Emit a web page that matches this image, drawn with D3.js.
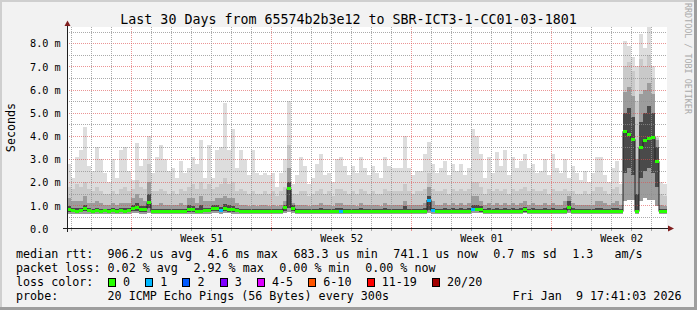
<!DOCTYPE html>
<html>
<head>
<meta charset="utf-8">
<script src="https://cdnjs.cloudflare.com/ajax/libs/d3/7.8.5/d3.min.js"></script>
<style>
body { margin: 0; background: #f2f2f2; }
svg { display: block; }
text { font-family: "DejaVu Sans Mono", monospace; white-space: pre; }
</style>
</head>
<body>
<div id="chart"></div>
<script>
// 150 samples of 4.8 h over the last 30 days, values in ms
const pingMin = [
0.64,0.64,0.64,0.64,0.64,0.64,0.64,0.64,0.64,0.64,
0.64,0.64,0.64,0.64,0.64,0.64,0.65,0.65,0.64,0.64,
0.66,0.64,0.64,0.63,0.64,0.64,0.63,0.64,0.64,0.63,
0.64,0.64,0.64,0.63,0.64,0.64,0.65,0.65,0.64,0.65,
0.65,0.64,0.64,0.63,0.63,0.63,0.63,0.63,0.63,0.63,
0.63,0.63,0.63,0.63,0.65,0.70,0.65,0.64,0.64,0.64,
0.64,0.64,0.64,0.64,0.63,0.64,0.64,0.64,0.64,0.64,
0.64,0.64,0.64,0.64,0.63,0.64,0.64,0.64,0.64,0.64,
0.64,0.64,0.64,0.64,0.64,0.64,0.63,0.64,0.64,0.64,
0.66,0.64,0.64,0.64,0.64,0.64,0.64,0.64,0.63,0.64,
0.64,0.65,0.65,0.65,0.64,0.64,0.64,0.64,0.64,0.64,
0.64,0.64,0.64,0.64,0.65,0.64,0.64,0.64,0.64,0.64,
0.64,0.64,0.64,0.64,0.64,0.66,0.64,0.64,0.64,0.64,
0.63,0.63,0.64,0.63,0.63,0.63,0.64,0.63,0.63,1.20,
1.25,1.25,0.64,1.20,1.30,1.25,1.25,0.95,0.63,0.63];

// 8th of 20 sorted pings (just under the median)
const p8 = [
0.72,0.71,0.70,0.71,0.74,0.71,0.70,0.71,0.70,0.71,
0.70,0.71,0.70,0.71,0.70,0.71,0.74,0.76,0.72,0.72,
0.90,0.70,0.70,0.70,0.70,0.70,0.70,0.70,0.70,0.70,
0.72,0.72,0.70,0.70,0.71,0.71,0.74,0.74,0.71,0.75,
0.73,0.72,0.71,0.70,0.70,0.70,0.70,0.70,0.70,0.70,
0.70,0.70,0.70,0.70,0.76,0.90,0.76,0.70,0.70,0.71,
0.70,0.70,0.71,0.70,0.70,0.70,0.70,0.71,0.70,0.70,
0.70,0.71,0.70,0.70,0.70,0.70,0.70,0.71,0.70,0.70,
0.70,0.70,0.71,0.70,0.70,0.70,0.70,0.70,0.71,0.70,
0.80,0.71,0.70,0.70,0.71,0.70,0.70,0.70,0.70,0.70,
0.70,0.74,0.74,0.73,0.70,0.70,0.71,0.70,0.70,0.70,
0.70,0.71,0.70,0.70,0.72,0.70,0.70,0.70,0.71,0.70,
0.70,0.70,0.71,0.70,0.70,0.78,0.70,0.70,0.70,0.70,
0.70,0.70,0.70,0.70,0.70,0.70,0.70,0.70,0.70,2.40,
2.60,2.30,0.71,2.20,2.50,2.60,2.40,1.80,0.70,0.70];

const median = [
0.82,0.76,0.75,0.76,0.87,0.76,0.75,0.76,0.75,0.76,
0.75,0.76,0.75,0.76,0.75,0.76,0.88,0.90,0.83,0.83,
1.12,0.74,0.74,0.73,0.74,0.74,0.73,0.74,0.74,0.73,
0.83,0.82,0.74,0.72,0.76,0.76,0.86,0.86,0.77,0.87,
0.84,0.83,0.76,0.73,0.73,0.72,0.73,0.73,0.72,0.73,
0.73,0.72,0.73,0.73,0.90,1.72,0.88,0.74,0.74,0.75,
0.74,0.74,0.75,0.74,0.73,0.74,0.74,0.75,0.74,0.74,
0.74,0.75,0.74,0.74,0.73,0.74,0.74,0.75,0.74,0.74,
0.74,0.74,0.75,0.74,0.74,0.74,0.73,0.74,0.75,0.74,
1.23,0.76,0.74,0.74,0.75,0.74,0.74,0.74,0.73,0.74,
0.74,0.84,0.84,0.82,0.74,0.74,0.75,0.74,0.74,0.74,
0.74,0.75,0.74,0.74,0.80,0.74,0.74,0.74,0.75,0.74,
0.74,0.74,0.75,0.74,0.74,0.92,0.74,0.74,0.74,0.74,
0.73,0.73,0.74,0.73,0.73,0.73,0.74,0.73,0.73,4.20,
4.05,3.85,0.73,3.50,3.80,3.90,3.95,2.90,0.73,0.73];

// smoke: upper pings of each sample (ping 12, 15, 18 of 20, and the max)
const p12 = [
0.95,0.88,0.88,0.88,1.00,0.88,0.86,0.90,0.86,0.86,
0.86,0.88,0.86,0.88,0.88,0.88,1.00,1.10,0.98,0.95,
1.50,0.86,0.85,0.86,0.85,0.85,0.85,0.85,0.86,0.85,
1.00,0.98,0.88,1.00,0.90,0.90,1.00,1.00,0.92,1.05,
1.00,0.98,0.88,0.84,0.84,0.83,0.84,0.83,0.84,0.84,
0.83,0.84,0.83,0.84,1.00,2.00,1.00,0.85,0.85,0.85,
0.84,0.85,0.85,0.88,0.85,0.85,0.84,0.88,0.88,0.85,
0.85,0.85,0.84,0.88,0.85,0.85,0.85,0.85,0.84,0.88,
0.85,0.85,0.85,0.85,0.95,0.85,0.85,0.85,0.85,0.88,
1.40,0.90,0.85,0.85,0.88,0.85,0.88,0.85,0.88,0.85,
0.88,1.00,1.00,0.95,0.85,0.88,0.85,0.88,0.85,0.88,
0.85,0.88,0.85,0.88,0.92,0.85,0.88,0.85,0.85,0.88,
0.85,0.88,0.85,0.85,0.90,1.20,0.88,0.85,0.85,0.85,
0.84,0.85,0.90,0.90,0.86,0.84,0.88,0.90,0.84,5.00,
5.20,4.80,1.50,4.60,5.00,5.30,5.00,3.50,0.84,0.84];

const p15 = [
1.30,1.20,1.20,1.20,1.40,1.10,1.10,1.20,1.10,1.00,
1.00,1.10,1.00,1.10,1.10,1.10,1.30,1.50,1.30,1.20,
2.00,1.00,1.00,1.10,1.00,1.00,1.00,1.00,1.10,1.00,
1.30,1.30,1.10,1.40,1.20,1.20,1.20,1.30,1.30,1.40,
1.30,1.30,1.10,1.00,1.00,0.95,1.00,0.95,1.00,1.00,
0.95,1.00,0.95,1.00,1.20,2.60,1.10,1.00,1.00,1.00,
0.95,1.00,1.00,1.10,1.00,1.00,0.95,1.10,1.10,1.00,
1.00,1.00,0.95,1.10,1.00,1.00,1.00,1.00,0.95,1.10,
1.00,1.00,1.00,1.00,1.20,1.00,1.00,1.00,1.00,1.10,
1.80,1.20,1.00,1.00,1.10,1.00,1.10,1.00,1.10,1.00,
1.10,1.40,1.40,1.20,1.00,1.10,1.00,1.10,1.00,1.10,
1.00,1.10,1.00,1.10,1.20,1.00,1.10,1.00,1.00,1.10,
1.00,1.10,1.00,1.00,1.20,1.40,1.10,1.00,1.00,1.00,
1.00,1.00,1.20,1.20,1.10,1.00,1.10,1.20,1.00,5.90,
6.10,5.70,3.00,5.80,6.00,6.30,5.80,3.80,1.00,0.95];

const p18 = [
1.80,1.70,1.90,1.80,2.00,1.70,1.60,1.80,1.60,1.50,
1.50,1.60,1.50,1.70,1.80,1.60,1.70,2.10,1.80,1.70,
2.80,1.60,1.60,1.70,1.60,1.50,1.60,1.50,1.70,1.60,
1.80,1.90,1.70,2.00,1.70,1.90,1.70,1.80,1.90,2.20,
1.90,2.00,1.60,1.70,1.60,1.50,1.60,1.50,1.50,1.60,
1.50,1.60,1.40,1.60,1.80,3.60,1.50,1.50,1.60,1.60,
1.40,1.50,1.60,1.70,1.50,1.60,1.40,1.70,1.70,1.60,
1.50,1.60,1.50,1.70,1.60,1.50,1.60,1.50,1.50,1.70,
1.60,1.60,1.60,1.60,1.90,1.60,1.50,1.60,1.60,1.70,
2.40,1.70,1.60,1.60,1.70,1.50,1.70,1.60,1.70,1.60,
1.70,2.00,2.00,1.80,1.50,1.70,1.60,1.70,1.60,1.70,
1.50,1.70,1.60,1.70,1.80,1.60,1.70,1.60,1.60,1.70,
1.50,1.70,1.60,1.60,1.70,1.60,1.60,1.50,1.50,1.60,
1.50,1.60,1.80,1.80,1.60,1.50,1.70,1.80,1.50,7.00,
7.20,6.80,5.50,7.30,7.00,7.50,6.50,3.90,1.50,1.40];

const pingMax = [
2.8,2.2,3.1,3.4,4.4,2.7,2.5,3.5,3.0,2.4,
2.0,3.0,2.2,3.4,3.5,2.5,2.1,3.7,2.7,3.0,
4.0,2.4,3.1,3.6,3.0,2.5,2.6,2.2,2.9,2.4,
2.6,3.1,2.8,3.8,2.2,3.6,2.2,3.4,3.5,5.4,
3.4,4.3,2.6,3.4,3.0,2.3,3.4,2.4,2.3,2.4,
2.3,2.4,1.8,2.4,3.0,5.5,1.9,2.3,3.1,2.7,
1.9,2.2,2.8,3.2,2.3,2.4,2.0,3.0,3.1,2.7,
2.3,2.7,2.4,3.1,2.6,2.3,2.7,2.4,2.2,3.1,
2.7,2.6,2.6,2.6,4.0,2.6,2.3,2.5,2.5,3.2,
3.75,2.8,2.4,2.6,2.9,2.3,2.8,2.5,2.8,2.3,
2.6,4.3,4.0,3.2,2.2,3.1,2.4,3.3,2.7,3.4,
2.3,3.1,2.6,2.9,3.2,2.6,2.8,2.4,2.5,3.0,
2.3,3.2,2.6,2.4,3.0,2.2,2.7,2.4,2.1,2.5,
2.0,2.4,3.1,3.1,2.3,2.0,2.6,2.9,1.9,8.1,
7.9,7.4,7.0,8.4,7.8,8.7,7.0,4.0,2.0,1.9];

// lost pings out of 20 per sample
const lossCount = [
0,0,0,0,0,0,0,0,0,0, 0,0,0,0,0,0,0,0,0,0,
0,0,0,0,0,0,0,0,0,0, 0,0,0,0,0,0,0,0,1,0,
0,0,0,0,0,0,0,0,0,0, 0,0,0,0,0,0,0,0,0,0,
0,0,0,0,0,0,0,0,1,0, 0,0,0,0,0,0,0,0,0,0,
0,0,0,0,0,0,0,0,0,0, 1,1,0,0,0,0,0,0,0,0,
0,1,0,0,0,0,0,0,0,0, 0,0,0,0,0,0,0,0,0,0,
0,0,0,0,0,0,0,0,0,0, 0,0,0,0,0,0,0,0,0,0,
0,0,0,0,0,0,0,0,0,0];

const lossLabels = ["0", "1", "2", "3", "4-5", "6-10", "11-19", "20/20"];
const lossUpper = [0, 1, 2, 3, 5, 10, 19, 20];
const lossColors = ["#26ff00", "#00b8ff", "#0059ff", "#7e00ff", "#dd00ff", "#ff5500", "#ff0000", "#a10000"];

const rttStats = ["906.2 us avg", "4.6 ms max", "683.3 us min", "741.1 us now", "0.7 ms sd", "1.3   am/s"];
const lossStats = ["0.02 % avg", "2.92 % max", "0.00 % min", "0.00 % now"];
const titleText = "Last 30 Days from 65574b2b3e12 to SBR-ICT3-1-CC01-03-1801";
const probeText = "20 ICMP Echo Pings (56 Bytes) every 300s";
const dateText = "Fri Jan  9 17:41:03 2026";

const W = 697, H = 310;
const plotL = 67, plotR = 667, plotT = 27, plotB = 228.5;
const ch = 7.04; // legend char advance

const tEnd = new Date(Date.UTC(2026, 0, 9, 19, 0, 0));
const tStart = d3.utcDay.offset(tEnd, -30);
const step = (tEnd - tStart) / median.length;
const times = median.map((d, i) => new Date(+tStart + i * step));

const x = d3.scaleUtc().domain([tStart, tEnd]).range([plotL, plotR]);
const y = d3.scaleLinear().domain([0, d3.max(pingMax)]).range([plotB, plotT]);
const sw = x(times[1]) - x(times[0]);

const svg = d3.select("#chart").append("svg").attr("width", W).attr("height", H);

// frame
svg.append("rect").attr("width", W).attr("height", H).attr("fill", "#f2f2f2");
svg.append("rect").attr("width", W).attr("height", 2).attr("fill", "#cfcfcf");
svg.append("rect").attr("width", 2).attr("height", H).attr("fill", "#cfcfcf");
svg.append("rect").attr("x", 0).attr("y", H - 3).attr("width", W).attr("height", 3).attr("fill", "#9e9e9e");
svg.append("rect").attr("x", W - 3).attr("y", 0).attr("width", 3).attr("height", H).attr("fill", "#9e9e9e");

svg.append("rect").attr("x", plotL).attr("y", plotT).attr("width", plotR - plotL).attr("height", plotB - plotT)
  .attr("fill", "#ffffff");

// smoke
const bands = [
  { lo: pingMin, hi: pingMax, color: "#dddddd" },
  { lo: pingMin, hi: p18, color: "#c9c9c9" },
  { lo: pingMin, hi: p15, color: "#9c9c9c" },
  { lo: p8, hi: p12, color: "#4a4a4a" }
];
bands.forEach(b => {
  svg.append("g").attr("shape-rendering", "crispEdges")
    .selectAll("rect").data(times).join("rect")
    .attr("x", d => x(d))
    .attr("width", sw)
    .attr("y", (d, i) => y(b.hi[i]))
    .attr("height", (d, i) => y(b.lo[i]) - y(b.hi[i]))
    .attr("fill", b.color);
});

// grid
const px = v => Math.round(v) + 0.5;
const gridCol = "rgba(143,143,143,0.75)", mgridCol = "rgba(222,79,79,0.6)";
const grid = svg.append("g").attr("shape-rendering", "crispEdges").attr("stroke-dasharray", "1,1");
const yMax = y.domain()[1];
d3.range(1, 20).map(k => k * 0.5).filter(v => v < yMax).forEach(v => {
  const major = Number.isInteger(v);
  grid.append("line").attr("x1", plotL).attr("x2", plotR).attr("y1", px(y(v))).attr("y2", px(y(v)))
    .attr("stroke", major ? mgridCol : gridCol);
});
d3.utcDay.range(tStart, tEnd).forEach(d => {
  const major = d.getUTCDay() === 0;
  grid.append("line").attr("x1", px(x(d))).attr("x2", px(x(d))).attr("y1", plotT).attr("y2", plotB)
    .attr("stroke", major ? mgridCol : gridCol);
});

// median line and loss coloured band
const lossIndex = n => lossUpper.findIndex(u => n <= u);
const medLine = d3.line().x(d => x(d[0])).y(d => y(d[1])).curve(d3.curveStepAfter);
const medPts = times.map((t, i) => [t, median[i]]).concat([[tEnd, median[median.length - 1]]]);
svg.append("path").attr("d", medLine(medPts)).attr("fill", "none")
  .attr("stroke", "#202020").attr("stroke-width", 1);
svg.append("g").attr("shape-rendering", "crispEdges")
  .selectAll("rect").data(times).join("rect")
  .attr("x", d => x(d))
  .attr("width", sw)
  .attr("y", (d, i) => y(median[i]) - 1.5)
  .attr("height", 3)
  .attr("fill", (d, i) => lossColors[lossIndex(lossCount[i])]);

// axes
const axisG = svg.append("g").attr("shape-rendering", "crispEdges");
d3.utcDay.range(tStart, tEnd).forEach(d => {
  const major = d.getUTCDay() === 0;
  axisG.append("line").attr("x1", px(x(d))).attr("x2", px(x(d)))
    .attr("y1", major ? plotB - 2 : plotB).attr("y2", plotB + 2)
    .attr("stroke", major ? mgridCol : gridCol);
});
axisG.append("line").attr("x1", plotL - 4).attr("x2", plotR + 2).attr("y1", plotB).attr("y2", plotB)
  .attr("stroke", "#1f1f1f");
axisG.append("line").attr("x1", plotL + 0.5).attr("x2", plotL + 0.5).attr("y1", plotB + 3.5).attr("y2", plotT - 2)
  .attr("stroke", "#1f1f1f");
svg.append("path").attr("d", `M${plotR + 1},${plotB - 3}L${plotR + 7},${plotB}L${plotR + 1},${plotB + 3}Z`)
  .attr("fill", "#801f1f");
svg.append("path").attr("d", `M${plotL - 2.5},${plotT - 1}L${plotL + 0.5},${plotT - 6.5}L${plotL + 3.5},${plotT - 1}Z`)
  .attr("fill", "#801f1f");

const yAxis = d3.axisLeft(y).tickValues(d3.range(0, 9)).tickSize(0)
  .tickFormat(v => v === 0 ? "0.0" : v.toFixed(1) + " m");
const yg = svg.append("g").attr("transform", `translate(${plotL},0)`).call(yAxis);
yg.select(".domain").remove();
yg.selectAll("text").attr("x", 30 - plotL).attr("dy", "0.36em").attr("text-anchor", "start")
  .attr("font-family", "DejaVu Sans Mono").attr("font-size", "10.2px").attr("fill", "#000");

const weekMid = d3.utcSunday.range(d3.utcSunday.offset(tStart, -1), tEnd)
  .map(d => d3.utcHour.offset(d, 84)).filter(d => d > tStart && d < tEnd);
const xAxis = d3.axisBottom(x).tickValues(weekMid).tickSize(0).tickFormat(d3.utcFormat("Week %V"));
const xg = svg.append("g").attr("transform", `translate(0,${plotB})`).call(xAxis);
xg.select(".domain").remove();
xg.selectAll("text").attr("y", 13).attr("dy", 0)
  .attr("font-family", "DejaVu Sans Mono").attr("font-size", "10.2px").attr("fill", "#000");

// texts
svg.append("text").attr("x", 348.5).attr("y", 24).attr("text-anchor", "middle")
  .attr("font-size", "13.3px").text(titleText);
svg.append("text").attr("transform", "translate(15,127.5) rotate(-90)").attr("text-anchor", "middle")
  .attr("font-size", "11.7px").text("Seconds");
svg.append("text").attr("transform", "translate(684.5,3) rotate(90)")
  .attr("font-size", "8.4px").attr("fill", "#aaaaaa").text("RRDTOOL / TOBI OETIKER");

// legend
const leg = svg.append("g").attr("font-size", "11.7px").attr("fill", "#000");
const legText = (n, yb, s) => leg.append("text").attr("x", 16 + n * ch).attr("y", yb)
  .attr("xml:space", "preserve").text(s);

legText(0, 257.5, "median rtt:");
let pos = 13;
rttStats.forEach(s => { legText(pos, 257.5, s); pos += s.length + 2.2; });

legText(0, 271.5, "packet loss:");
pos = 13;
lossStats.forEach(s => { legText(pos, 271.5, s); pos += s.length + 2.2; });

legText(0, 285.5, "loss color:");
let bx = 108.5;
lossLabels.forEach((s, i) => {
  leg.append("rect").attr("x", bx).attr("y", 278.5).attr("width", 7).attr("height", 8)
    .attr("fill", lossColors[i]).attr("stroke", "#000").attr("stroke-width", 1)
    .attr("shape-rendering", "crispEdges");
  leg.append("text").attr("x", bx + 14.5).attr("y", 285.5).text(s);
  bx += 14.7 + s.length * ch + 15.5;
});

legText(0, 299.5, "probe:");
legText(13, 299.5, probeText);
leg.append("text").attr("x", 681.5).attr("y", 299.5).attr("text-anchor", "end")
  .attr("xml:space", "preserve").text(dateText);
</script>
</body>
</html>
